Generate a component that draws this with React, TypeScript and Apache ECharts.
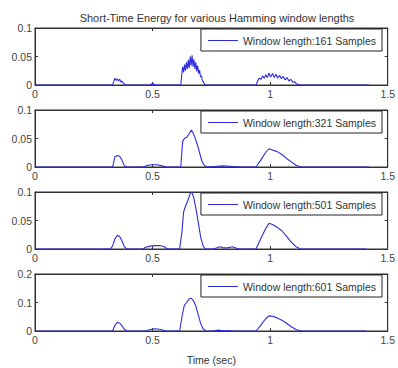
import React, { useEffect, useRef } from "react";
import * as echarts from "echarts";

const chartTitle = "Short-Time Energy for various Hamming window lengths";
const xAxisName = "Time (sec)";
const windowLabels = ["Window length:161 Samples", "Window length:321 Samples", "Window length:501 Samples", "Window length:601 Samples"];
const yMaxes = [0.1, 0.1, 0.1, 0.2];
const yIntervals = [0.05, 0.05, 0.05, 0.1];

const t161 = [0, 0.33, 0.335, 0.34, 0.345, 0.35, 0.355, 0.36, 0.365, 0.37, 0.375, 0.38, 0.385,
  0.49, 0.495, 0.5, 0.505, 0.51,
  0.62, 0.624, 0.628, 0.632, 0.636, 0.64, 0.644, 0.648, 0.652, 0.656, 0.66, 0.664, 0.668, 0.672, 0.676, 0.68, 0.684, 0.688, 0.692, 0.696, 0.7, 0.704, 0.708, 0.712, 0.716, 0.72, 0.725,
  0.94, 0.948, 0.955, 0.962, 0.968, 0.975, 0.982, 0.988, 0.995, 1.002, 1.01, 1.018, 1.025, 1.032, 1.04, 1.048, 1.056, 1.064, 1.072, 1.08, 1.088, 1.096, 1.104, 1.112, 1.12, 1.13, 1.42];
const e161 = [0, 0, 0.006, 0.012, 0.008, 0.011, 0.007, 0.01, 0.005, 0.007, 0.003, 0.002, 0,
  0, 0.002, 0.001, 0.002, 0,
  0, 0.018, 0.032, 0.022, 0.036, 0.025, 0.04, 0.028, 0.044, 0.03, 0.05, 0.034, 0.052, 0.032, 0.045, 0.028, 0.04, 0.024, 0.034, 0.02, 0.026, 0.014, 0.016, 0.007, 0.006, 0.002, 0,
  0, 0.008, 0.012, 0.01, 0.016, 0.012, 0.018, 0.013, 0.021, 0.014, 0.02, 0.013, 0.019, 0.012, 0.017, 0.011, 0.015, 0.009, 0.013, 0.007, 0.01, 0.005, 0.006, 0.002, 0.001, 0, 0];

const t321 = [0, 0.33, 0.34, 0.35, 0.36, 0.37, 0.38, 0.39, 0.46, 0.48, 0.5, 0.52, 0.54, 0.56,
  0.62, 0.628, 0.635, 0.645, 0.655, 0.665, 0.672, 0.68, 0.69, 0.7, 0.71, 0.72, 0.73,
  0.76, 0.8, 0.84, 0.88, 0.94, 0.96, 0.98, 0.995, 1.01, 1.03, 1.05, 1.07, 1.09, 1.11, 1.13, 1.42];
const e321 = [0, 0, 0.018, 0.02, 0.019, 0.012, 0.002, 0, 0, 0.003, 0.004, 0.004, 0.002, 0,
  0, 0.045, 0.05, 0.052, 0.058, 0.065, 0.06, 0.052, 0.04, 0.025, 0.01, 0.003, 0,
  0.001, 0.002, 0.001, 0, 0, 0.012, 0.025, 0.032, 0.03, 0.027, 0.022, 0.015, 0.009, 0.003, 0, 0];

const t501 = [0, 0.32, 0.33, 0.34, 0.35, 0.36, 0.37, 0.38, 0.39, 0.46, 0.47, 0.49, 0.51, 0.53, 0.55, 0.56, 0.57,
  0.615, 0.625, 0.632, 0.64, 0.65, 0.66, 0.667, 0.675, 0.685, 0.695, 0.705, 0.715, 0.725,
  0.76, 0.78, 0.79, 0.8, 0.82, 0.84, 0.86, 0.87,
  0.94, 0.96, 0.98, 0.995, 1.01, 1.03, 1.05, 1.07, 1.09, 1.11, 1.13, 1.41];
const e501 = [0, 0, 0.005, 0.018, 0.024, 0.022, 0.014, 0.004, 0, 0, 0.003, 0.005, 0.006, 0.006, 0.004, 0.001, 0,
  0, 0.03, 0.065, 0.075, 0.085, 0.097, 0.1, 0.09, 0.07, 0.045, 0.02, 0.005, 0,
  0, 0.003, 0.004, 0.002, 0.002, 0.004, 0.001, 0,
  0, 0.018, 0.035, 0.045, 0.043, 0.038, 0.032, 0.022, 0.012, 0.004, 0, 0];

const t601 = [0, 0.33, 0.34, 0.35, 0.36, 0.37, 0.38, 0.39, 0.47, 0.49, 0.51, 0.53, 0.55, 0.56,
  0.615, 0.625, 0.635, 0.645, 0.655, 0.665, 0.675, 0.685, 0.695, 0.705, 0.715, 0.725, 0.73,
  0.76, 0.78, 0.8, 0.82, 0.84,
  0.94, 0.96, 0.98, 0.995, 1.01, 1.03, 1.05, 1.07, 1.09, 1.11, 1.13, 1.41];
const e601 = [0, 0, 0.02, 0.03, 0.028, 0.018, 0.006, 0, 0, 0.005, 0.008, 0.006, 0.002, 0,
  0, 0.05, 0.09, 0.1, 0.112, 0.115, 0.105, 0.085, 0.055, 0.025, 0.008, 0.001, 0,
  0, 0.003, 0.001, 0.002, 0,
  0, 0.02, 0.042, 0.053, 0.052, 0.046, 0.038, 0.027, 0.015, 0.005, 0, 0];

const times = [t161, t321, t501, t601];
const energies = [e161, e321, e501, e601];

const FONT = "Liberation Sans";
const LINE_COLOR = "#2d2ddc";
const TEXT_COLOR = "#444";
const GRID_TOPS = [28, 110, 192, 274];
const GRID_H = 57;

export default function App() {
  const ref = useRef<HTMLDivElement>(null);
  useEffect(() => {
    if (!ref.current) return;
    const chart = echarts.init(ref.current, null, { renderer: "svg" });
    const grids: any[] = [];
    const xAxes: any[] = [];
    const yAxes: any[] = [];
    const series: any[] = [];
    const legends: any[] = [];
    for (let i = 0; i < 4; i++) {
      grids.push({ left: 35, right: 9, top: GRID_TOPS[i], height: GRID_H, show: true, borderColor: "#333", borderWidth: 1, backgroundColor: "#fff" });
      const isLast = i === 3;
      xAxes.push({
        gridIndex: i, type: "value", min: 0, max: 1.5, interval: 0.5, position: "bottom",
        axisLine: { show: true, onZero: false, lineStyle: { color: "#333", width: 1 } },
        axisTick: { show: true, inside: true, length: 3, lineStyle: { color: "#333" } },
        axisLabel: { show: true, fontSize: 10.5, color: TEXT_COLOR, fontFamily: FONT, margin: 3 },
        splitLine: { show: false },
        name: isLast ? xAxisName : "", nameLocation: "middle", nameGap: 23,
        nameTextStyle: { fontSize: 10.5, color: "#333", fontFamily: FONT },
      });
      xAxes.push({
        gridIndex: i, type: "value", min: 0, max: 1.5, interval: 0.5, position: "top",
        axisLine: { show: true, onZero: false, lineStyle: { color: "#333", width: 1 } },
        axisTick: { show: true, inside: true, length: 3, lineStyle: { color: "#333" } },
        axisLabel: { show: false }, splitLine: { show: false },
      });
      yAxes.push({
        gridIndex: i, type: "value", min: 0, max: yMaxes[i], interval: yIntervals[i], position: "left",
        axisLine: { show: true, onZero: false, lineStyle: { color: "#333", width: 1 } },
        axisTick: { show: true, inside: true, length: 3, lineStyle: { color: "#333" } },
        axisLabel: { show: true, fontSize: 10.5, color: TEXT_COLOR, fontFamily: FONT, margin: 3 },
        splitLine: { show: false },
      });
      yAxes.push({
        gridIndex: i, type: "value", min: 0, max: yMaxes[i], interval: yIntervals[i], position: "right",
        axisLine: { show: true, onZero: false, lineStyle: { color: "#333", width: 1 } },
        axisTick: { show: true, inside: true, length: 3, lineStyle: { color: "#333" } },
        axisLabel: { show: false }, splitLine: { show: false },
      });
      const t = times[i];
      const e = energies[i];
      const n = Math.min(t.length, e.length);
      const data: number[][] = [];
      for (let k = 0; k < n; k++) data.push([t[k], e[k]]);
      series.push({
        name: windowLabels[i], type: "line", xAxisIndex: i * 2, yAxisIndex: i * 2,
        data, showSymbol: false, symbol: "none", clip: true, z: 3,
        lineStyle: { color: LINE_COLOR, width: 1.1 }, itemStyle: { color: LINE_COLOR },
      });
      legends.push({
        data: [windowLabels[i]], right: 16, top: GRID_TOPS[i] + 1, orient: "horizontal",
        icon: "rect", itemWidth: 30, itemHeight: 1, itemGap: 4,
        backgroundColor: "#fff", borderColor: "#222", borderWidth: 1, padding: [6, 6, 5, 7],
        textStyle: { fontSize: 10.5, color: "#333", fontFamily: FONT, padding: [0, 0, 0, 0] },
        selectedMode: false,
      });
    }
    chart.setOption({
      animation: false,
      backgroundColor: "#fff",
      title: {
        text: chartTitle, left: 212, top: 7, textAlign: "center",
        textStyle: { fontSize: 11, fontWeight: "normal", color: "#333", fontFamily: FONT },
      },
      grid: grids,
      xAxis: xAxes,
      yAxis: yAxes,
      legend: legends,
      series,
    });
    return () => chart.dispose();
  }, []);
  return <div ref={ref} style={{ width: 398, height: 368, position: "absolute", left: 0, top: 0 }} />;
}
